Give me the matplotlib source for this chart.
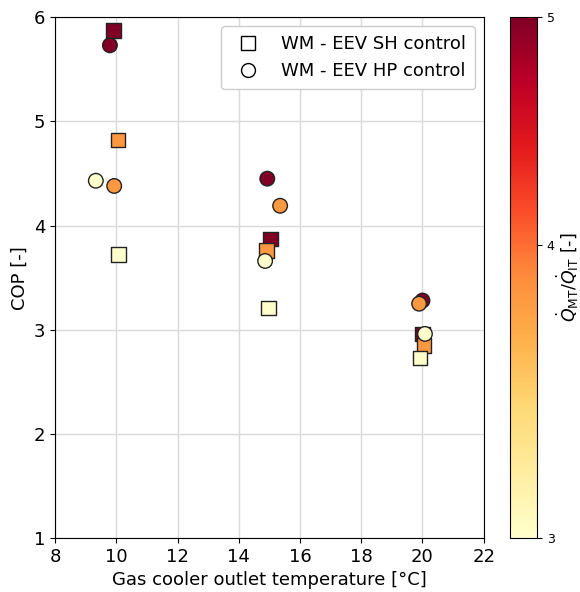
import matplotlib
matplotlib.use("Agg")
import matplotlib.pyplot as plt
from matplotlib.colors import LogNorm
from matplotlib.lines import Line2D
import numpy as np

# SH control (squares)
sh_temp = [9.9, 10.05, 10.08, 15.03, 14.9, 14.97, 20.0, 20.05, 19.92]
sh_cop = [5.87, 4.82, 3.72, 3.87, 3.76, 3.21, 2.96, 2.85, 2.73]
sh_ratio = [5.0, 3.8, 3.0, 5.0, 3.8, 3.0, 5.0, 3.8, 3.0]

# HP control (circles)
hp_temp = [9.79, 9.93, 9.33, 14.93, 15.35, 14.86, 20.0, 19.89, 20.08]
hp_cop = [5.73, 4.38, 4.43, 4.45, 4.19, 3.66, 3.28, 3.25, 2.96]
hp_ratio = [5.0, 3.8, 3.0, 5.0, 3.8, 3.0, 5.0, 3.8, 3.0]

xticks = [8, 10, 12, 14, 16, 18, 20, 22]
yticks = [1, 2, 3, 4, 5, 6]
cbar_ticks = [3, 4, 5]

fig = plt.figure(figsize=(5.8, 5.92), dpi=100)
ax = fig.add_axes([0.095, 0.091, 0.739, 0.880])
cax = fig.add_axes([0.879, 0.091, 0.047, 0.880])

norm = LogNorm(vmin=3, vmax=5)
cmap = plt.get_cmap("YlOrRd")

ax.grid(True, color="#d9d9d9", linewidth=1.0, zorder=0)
ax.set_axisbelow(True)

sc = ax.scatter(sh_temp, sh_cop, c=sh_ratio, cmap=cmap, norm=norm, marker="s",
                s=110, edgecolors="#222222", linewidths=1.0, zorder=3)
ax.scatter(hp_temp, hp_cop, c=hp_ratio, cmap=cmap, norm=norm, marker="o",
           s=110, edgecolors="#222222", linewidths=1.0, zorder=4)

ax.set_xlim(8, 22)
ax.set_ylim(1, 6)
ax.set_xticks(xticks)
ax.set_yticks(yticks)
ax.tick_params(labelsize=13)
ax.set_xlabel("Gas cooler outlet temperature [°C]", fontsize=13)
ax.set_ylabel("COP [-]", fontsize=13)

handles = [
    Line2D([], [], linestyle="none", marker="s", markersize=10,
           markerfacecolor="white", markeredgecolor="black", markeredgewidth=1.0,
           label="WM - EEV SH control"),
    Line2D([], [], linestyle="none", marker="o", markersize=10,
           markerfacecolor="white", markeredgecolor="black", markeredgewidth=1.0,
           label="WM - EEV HP control"),
]
ax.legend(handles=handles, loc="upper right", fontsize=13, handletextpad=0.8,
          borderpad=0.5, framealpha=1.0)

cb = fig.colorbar(sc, cax=cax)
cb.minorticks_off()
cb.set_ticks(cbar_ticks)
cb.set_ticklabels([str(t) for t in cbar_ticks])
cb.ax.tick_params(labelsize=9)
cb.set_label(r"$\dot{Q}_{\mathrm{MT}}/\dot{Q}_{\mathrm{IT}}$ [-]", fontsize=12.5,
             labelpad=0)

fig.savefig("out.png", dpi=100)
